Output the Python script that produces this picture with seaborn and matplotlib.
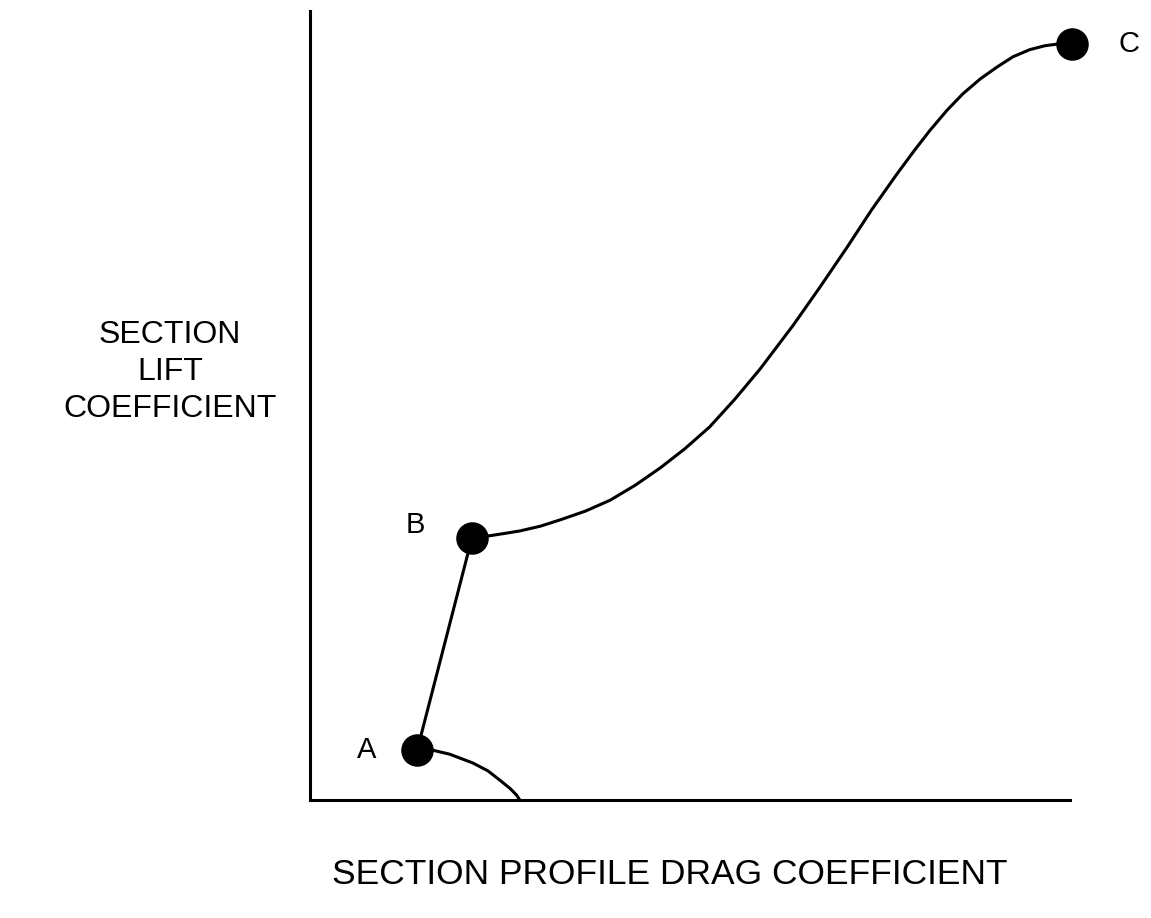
import matplotlib
matplotlib.use('Agg')
from matplotlib import pyplot as plt
import seaborn as sns
import pandas as pd

# values (axes run 0..100 both ways)
arc_x = [14.1, 16.2, 18.4, 21.4, 23.4, 25.0, 26.4, 27.2, 27.6]
arc_y = [6.3, 6.3, 5.8, 4.7, 3.7, 2.5, 1.4, 0.6, 0.0]

ab_x = [14.1, 21.3]
ab_y = [6.3, 33.2]

bc_x = [21.3, 23.7, 25.7, 27.6, 30.3, 32.9, 36.2, 39.5, 42.8, 46.1, 49.3, 52.6, 55.9, 59.2, 61.4, 63.6,
        67.1, 70.7, 73.9, 77.2, 79.5, 81.6, 83.8, 85.9, 88.2, 90.4, 92.5, 94.7, 96.7, 98.3, 100.3]
bc_y = [33.2, 33.5, 33.8, 34.1, 34.7, 35.5, 36.6, 38.0, 39.9, 42.1, 44.5, 47.3, 50.8, 54.6, 57.4, 60.2,
        65.0, 70.1, 74.8, 79.3, 82.3, 84.9, 87.4, 89.5, 91.4, 92.9, 94.2, 95.1, 95.6, 95.8, 95.8]

point_names = ['A', 'B', 'C']
point_x = [14.1, 21.3, 100.3]
point_y = [6.3, 33.2, 95.8]

sns.set_style('white')
plt.rcParams['font.family'] = ['Liberation Sans', 'DejaVu Sans']
plt.rcParams['text.color'] = 'black'

fig = plt.figure(figsize=(11.51, 9.18), dpi=100)
ax = fig.add_axes([310 / 1151, 118 / 918, 760 / 1151, 789 / 918])

curves = pd.concat([
    pd.DataFrame({'x': arc_x, 'y': arc_y, 'part': 'arc'}),
    pd.DataFrame({'x': ab_x, 'y': ab_y, 'part': 'ab'}),
    pd.DataFrame({'x': bc_x, 'y': bc_y, 'part': 'bc'}),
])
for part, sub in curves.groupby('part'):
    sns.lineplot(data=sub, x='x', y='y', sort=False, color='black', lw=2.2, ax=ax,
                 clip_on=False, solid_joinstyle='round')

pts = pd.DataFrame({'x': point_x, 'y': point_y, 'name': point_names})
sns.scatterplot(data=pts, x='x', y='y', color='black', s=470, edgecolor='black', zorder=5, clip_on=False, ax=ax)

offsets = {'A': (-6.6, 0), 'B': (-7.4, 1.6), 'C': (7.4, 0)}
for _, r in pts.iterrows():
    dx, dy = offsets[r['name']]
    ax.text(r['x'] + dx, r['y'] + dy, r['name'], fontsize=21, ha='center', va='center', color='black')

ax.set_xlim(0, 100)
ax.set_ylim(0, 100)
ax.set_xticks([])
ax.set_yticks([])
ax.set_xlabel('')
ax.set_ylabel('')
sns.despine(ax=ax)
for s in ['left', 'bottom']:
    ax.spines[s].set_linewidth(2.2)
    ax.spines[s].set_color('black')

fig.text(170 / 1151, 1 - 372 / 918, 'SECTION\nLIFT\nCOEFFICIENT', fontsize=23,
         ha='center', va='center', linespacing=1.32, color='black')
fig.text(670 / 1151, 1 - 875 / 918, 'SECTION PROFILE DRAG COEFFICIENT', fontsize=25.5,
         ha='center', va='center', color='black')

fig.savefig('out.png', dpi=100)
